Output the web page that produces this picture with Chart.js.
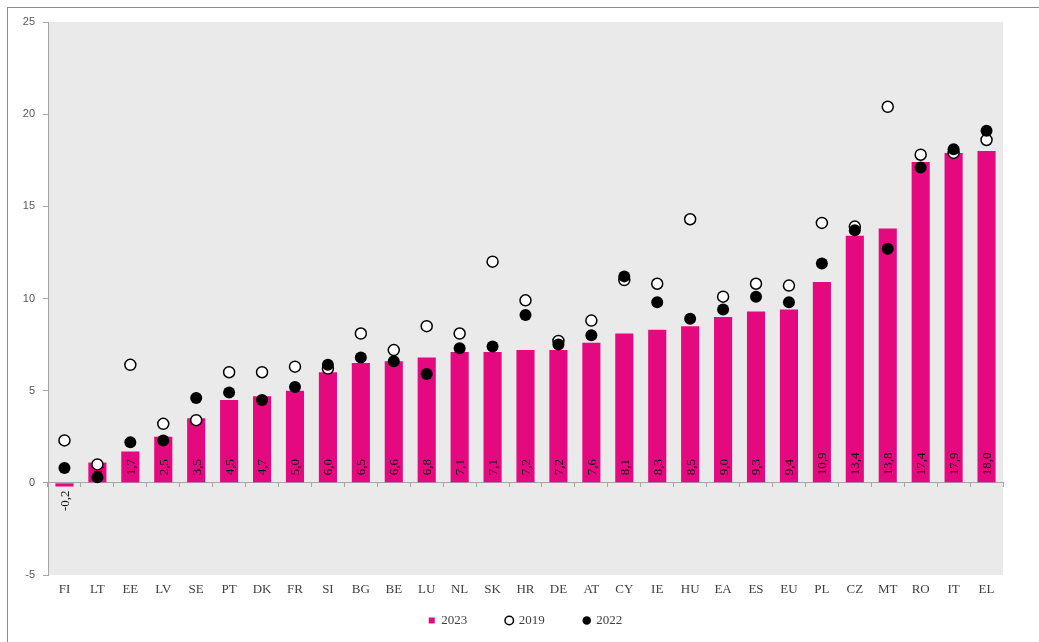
<!DOCTYPE html>
<html>
<head>
<meta charset="utf-8">
<script src="https://cdn.jsdelivr.net/npm/chart.js@4/dist/chart.umd.min.js"></script>
<style>
  html, body { margin: 0; padding: 0; background: #ffffff; overflow: hidden; }
  #wrap { position: relative; width: 1039px; height: 642px; }
  #frame { position: absolute; left: 7px; top: 7px; width: 1040px; height: 700px;
           border-left: 1px solid #8c8c8c; border-top: 1px solid #8c8c8c; pointer-events: none; }
  canvas { position: absolute; left: 0; top: 0; }
</style>
</head>
<body>
<div id="wrap">
  <canvas id="c" width="1039" height="642"></canvas>
  <div id="frame"></div>
</div>
<script>
const categories = ['FI','LT','EE','LV','SE','PT','DK','FR','SI','BG','BE','LU','NL','SK','HR','DE','AT','CY','IE','HU','EA','ES','EU','PL','CZ','MT','RO','IT','EL'];
const values2023 = [-0.2, 1.1, 1.7, 2.5, 3.5, 4.5, 4.7, 5.0, 6.0, 6.5, 6.6, 6.8, 7.1, 7.1, 7.2, 7.2, 7.6, 8.1, 8.3, 8.5, 9.0, 9.3, 9.4, 10.9, 13.4, 13.8, 17.4, 17.9, 18.0];
const values2019 = [2.3, 1.0, 6.4, 3.2, 3.4, 6.0, 6.0, 6.3, 6.2, 8.1, 7.2, 8.5, 8.1, 12.0, 9.9, 7.7, 8.8, 11.0, 10.8, 14.3, 10.1, 10.8, 10.7, 14.1, 13.9, 20.4, 17.8, 17.9, 18.6];
const values2022 = [0.8, 0.3, 2.2, 2.3, 4.6, 4.9, 4.5, 5.2, 6.4, 6.8, 6.6, 5.9, 7.3, 7.4, 9.1, 7.5, 8.0, 11.2, 9.8, 8.9, 9.4, 10.1, 9.8, 11.9, 13.7, 12.7, 17.1, 18.1, 19.1];
const seriesNames = ['2023', '2019', '2022'];
const yMin = -5, yMax = 25, yStep = 5;

const PINK = '#E4097F';
const AXIS = '#A6A6A6';

const plotBg = {
  id: 'plotBg',
  beforeDraw(chart) {
    const {ctx, chartArea: a} = chart;
    ctx.save();
    ctx.fillStyle = '#EAEAEA';
    ctx.fillRect(a.left, a.top, a.right - a.left, a.bottom - a.top);
    ctx.restore();
  }
};

const barLabels = {
  id: 'barLabels',
  afterDatasetDraw(chart, args) {
    if (args.index !== 0) return;
    const {ctx} = chart;
    const meta = chart.getDatasetMeta(0);
    ctx.save();
    ctx.font = '13px "Liberation Serif", serif';
    ctx.fillStyle = '#111111';
    ctx.textBaseline = 'middle';
    meta.data.forEach((bar, i) => {
      const v = values2023[i];
      const txt = v.toFixed(1).replace('.', ',');
      ctx.save();
      if (v >= 0) {
        ctx.translate(bar.x, bar.base - 7);
        ctx.rotate(-Math.PI / 2);
        ctx.textAlign = 'left';
      } else {
        ctx.translate(bar.x, bar.y + 4);
        ctx.rotate(-Math.PI / 2);
        ctx.textAlign = 'right';
      }
      ctx.fillText(txt, 0, 1);
      ctx.restore();
    });
    ctx.restore();
  }
};

new Chart(document.getElementById('c'), {
  type: 'bar',
  data: {
    labels: categories,
    datasets: [
      {
        type: 'bar',
        label: seriesNames[0],
        data: values2023,
        backgroundColor: PINK,
        borderWidth: 0,
        barPercentage: 0.55,
        categoryPercentage: 1.0,
        pointStyle: 'rect',
        order: 3
      },
      {
        type: 'line',
        label: seriesNames[1],
        data: values2019,
        showLine: false,
        pointStyle: 'circle',
        pointRadius: 5.5,
        pointBorderWidth: 1.5,
        pointBackgroundColor: '#ffffff',
        pointBorderColor: '#000000',
        backgroundColor: '#ffffff',
        borderColor: '#000000',
        order: 2
      },
      {
        type: 'line',
        label: seriesNames[2],
        data: values2022,
        showLine: false,
        pointStyle: 'circle',
        pointRadius: 6,
        pointBorderWidth: 0,
        pointBackgroundColor: '#000000',
        pointBorderColor: '#000000',
        backgroundColor: '#000000',
        borderColor: '#000000',
        order: 1
      }
    ]
  },
  options: {
    responsive: false,
    animation: false,
    devicePixelRatio: 1,
    layout: { padding: { left: 0, top: 22, right: 36, bottom: 5 } },
    plugins: {
      legend: {
        position: 'bottom',
        fullSize: false,
        labels: {
          usePointStyle: true,
          boxWidth: 6,
          boxHeight: 6,
          padding: 39,
          color: '#404040',
          font: { family: '"Liberation Serif", serif', size: 13 },
          sort: (a, b) => a.datasetIndex - b.datasetIndex
        }
      },
      tooltip: { enabled: false }
    },
    scales: {
      x: {
        type: 'category',
        position: { y: yMin },
        offset: true,
        grid: { display: false, drawTicks: false },
        border: { display: false },
        ticks: {
          padding: 7,
          color: '#404040',
          font: { family: '"Liberation Serif", serif', size: 13 },
          maxRotation: 0,
          autoSkip: false
        },
        afterFit(s) { s.height = 3; }
      },
      x2: {
        type: 'category',
        position: { y: 0 },
        offset: true,
        grid: { display: true, offset: true, drawOnChartArea: false, drawTicks: true, tickLength: 4, color: AXIS },
        border: { display: true, color: AXIS, width: 1 },
        ticks: { display: false },
        afterFit(s) { s.height = 0; }
      },
      y: {
        min: yMin,
        max: yMax,
        grid: { display: true, drawOnChartArea: false, drawTicks: true, tickLength: 5, color: AXIS },
        border: { display: true, color: AXIS, width: 1 },
        ticks: {
          stepSize: yStep,
          padding: 8,
          color: '#595959',
          font: { family: '"Liberation Sans", sans-serif', size: 11 }
        },
        afterFit(s) { s.width = 48; }
      }
    }
  },
  plugins: [plotBg, barLabels]
});
</script>
</body>
</html>
